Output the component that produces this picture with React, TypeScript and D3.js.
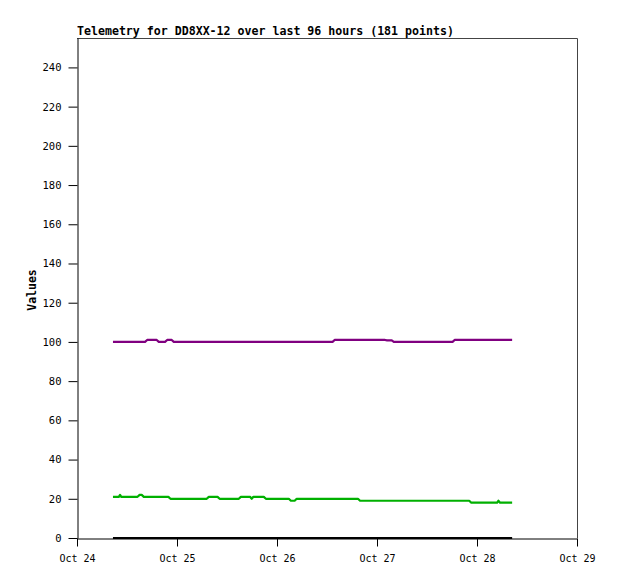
import { useEffect, useRef } from "react";
import * as d3 from "d3";

const TITLE = "Telemetry for DD8XX-12 over last 96 hours (181 points)";
const START = Date.UTC(2023, 9, 24, 8, 38);
const X_TICKS = [24, 25, 26, 27, 28, 29];
const Y_TICKS = [0, 20, 40, 60, 80, 100, 120, 140, 160, 180, 200, 220, 240];

// hours after START, value
const PURPLE_H = [0, 7.7, 8.2, 10.5, 11.0, 12.5, 13.0, 14.1, 14.6, 52.7, 53.2, 65.3, 65.8, 66.9, 67.4, 81.5, 82.0, 95.8];
const PURPLE_V = [100, 100, 101, 101, 100, 100, 101, 101, 100, 100, 101, 101, 100.8, 100.8, 100, 100, 101, 101];

const GREEN_H = [0, 1.4, 1.7, 2.0, 5.9, 6.4, 6.9, 7.4, 13.3, 13.8, 22.5, 23.0, 25.1, 25.6, 30.2, 30.7, 32.9, 33.3, 33.7, 36.2, 36.7, 42.2, 42.7, 43.6, 44.1, 58.8, 59.3, 85.5, 86.0, 92.2, 92.5, 92.9, 95.8];
const GREEN_V = [21, 21, 22, 21, 21, 22, 22, 21, 21, 20, 20, 21, 21, 20, 20, 21, 21, 20, 21, 21, 20, 20, 19, 19, 20, 20, 19, 19, 18, 18, 19, 18, 18];

const BLACK_H = [0, 95.8];
const BLACK_V = [0, 0];

const SERIES = [
  { h: BLACK_H, v: BLACK_V, color: "#000000" },
  { h: GREEN_H, v: GREEN_V, color: "#00b000" },
  { h: PURPLE_H, v: PURPLE_V, color: "#800080" },
];

export default function App() {
  const ref = useRef<SVGSVGElement>(null);

  useEffect(() => {
    const W = 618, H = 579;
    const mg = { t: 38, l: 77 };
    const IW = 500, IH = 500;
    const svg = d3.select(ref.current).attr("width", W).attr("height", H);
    svg.selectAll("*").remove();

    const xS = d3.scaleUtc()
      .domain([new Date(Date.UTC(2023, 9, 24)), new Date(Date.UTC(2023, 9, 29))])
      .range([mg.l, mg.l + IW]);
    const yS = d3.scaleLinear().domain([0, 255]).range([mg.t + IH, mg.t]);

    const mono = "'DejaVu Sans Mono', monospace";

    svg.append("rect").attr("width", W).attr("height", H).attr("fill", "white");

    // frame
    svg.append("path")
      .attr("d", `M${mg.l},${mg.t + 0.5}H${mg.l + IW + 0.5}V${mg.t + IH}`)
      .attr("fill", "none").attr("stroke", "#444").attr("stroke-width", 1);

    // lines
    const line = d3.line<[number, number]>()
      .x(d => xS(new Date(START + d[0] * 3600000)))
      .y(d => yS(d[1]));
    SERIES.forEach(s => {
      const pts = s.h.map((h, i) => [h, s.v[i]] as [number, number]);
      svg.append("path").attr("d", line(pts))
        .attr("fill", "none").attr("stroke", s.color).attr("stroke-width", 2.2)
        .attr("stroke-linejoin", "round");
    });

    // y axis
    const yAx = svg.append("g").attr("transform", `translate(${mg.l + 0.5},0)`)
      .call(d3.axisLeft(yS).tickValues(Y_TICKS).tickSize(9).tickPadding(7).tickSizeOuter(0));
    yAx.select(".domain").attr("stroke", "#000");
    yAx.selectAll("line").attr("stroke", "#000");
    yAx.selectAll("text").attr("font-family", mono).attr("font-size", 10.5).attr("fill", "#000");

    // x axis
    const xAx = svg.append("g").attr("transform", `translate(0,${mg.t + IH + 0.5})`)
      .call(d3.axisBottom(xS)
        .tickValues(X_TICKS.map(d => new Date(Date.UTC(2023, 9, d))))
        .tickFormat(d => d3.utcFormat("%b %d")(d as Date))
        .tickSize(8).tickPadding(8).tickSizeOuter(0));
    xAx.select(".domain").attr("stroke", "#000");
    xAx.selectAll("line").attr("stroke", "#000");
    xAx.selectAll("text").attr("font-family", mono).attr("font-size", 10).attr("fill", "#000");

    svg.append("text")
      .attr("x", mg.l).attr("y", 35)
      .attr("font-family", mono).attr("font-size", 11.6).attr("font-weight", "bold")
      .text(TITLE);

    svg.append("text")
      .attr("transform", `translate(36,${mg.t + IH / 2 + 2}) rotate(-90)`)
      .attr("text-anchor", "middle")
      .attr("font-family", mono).attr("font-size", 11.5).attr("font-weight", "bold")
      .text("Values");
  }, []);

  return (
    <div style={{ position: "absolute", left: 0, top: 0 }}>
      <svg ref={ref} style={{ display: "block" }} />
    </div>
  );
}
